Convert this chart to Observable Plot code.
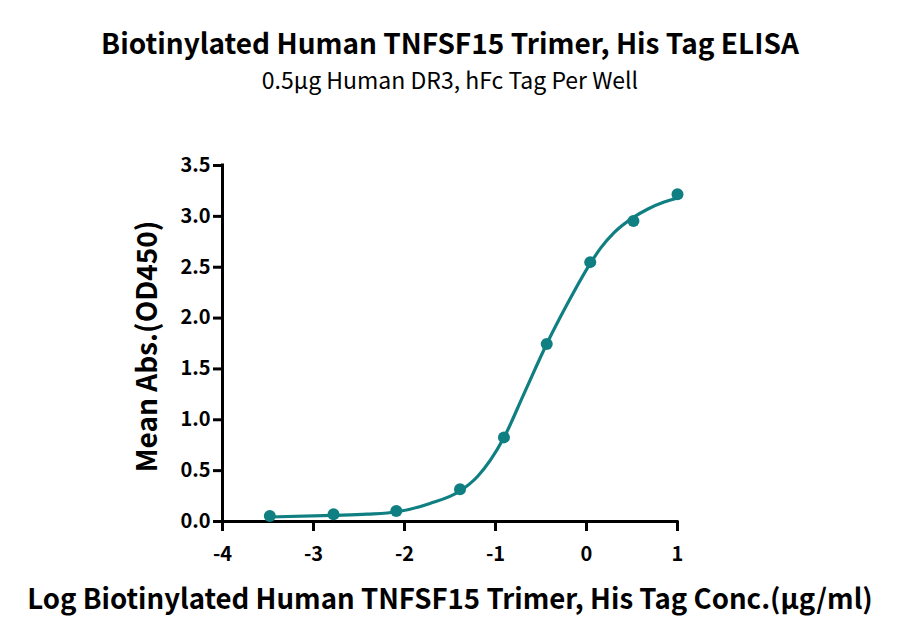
<!DOCTYPE html>
<html><head><meta charset="utf-8">
<script src="https://cdn.jsdelivr.net/npm/d3@7"></script>
<script src="https://cdn.jsdelivr.net/npm/@observablehq/plot@0.6"></script>
<style>
body{margin:0;background:#fff;font-family:"Noto Sans CJK SC","Noto Sans",sans-serif;color:#000;}
#wrap{width:900px;height:640px;position:relative;overflow:hidden;}
#title{position:absolute;top:28px;left:0;width:900px;text-align:center;font-weight:bold;font-size:28px;line-height:28px;white-space:nowrap;}
#subtitle{position:absolute;top:68px;left:0;width:900px;text-align:center;font-size:23px;line-height:23px;white-space:nowrap;}
#chart{position:absolute;top:100px;left:0;}
</style></head>
<body><div id="wrap">
<div id="title"></div><div id="subtitle"></div><div id="chart"></div>
</div>
<script>
const titleText = "Biotinylated Human TNFSF15 Trimer, His Tag ELISA";
const subtitleText = "0.5µg Human DR3, hFc Tag Per Well";
const xLabel = "Log Biotinylated Human TNFSF15 Trimer, His Tag Conc.(µg/ml)";
const yLabel = "Mean Abs.(OD450)";

const logConc = [-3.48, -2.78, -2.09, -1.39, -0.907, -0.437, 0.041, 0.516, 1.0];
const meanAbs = [0.054, 0.071, 0.103, 0.316, 0.827, 1.744, 2.55, 2.955, 3.217];

const fitLogConc = [-3.49, -2.79, -2.41, -2.08, -1.72, -1.39, -1.20, -0.91, -0.69, -0.44, -0.21, 0.037, 0.157, 0.303, 0.516, 0.67, 0.853, 1.0];
const fitAbs =     [0.044, 0.060, 0.072, 0.096, 0.178, 0.30, 0.44, 0.82, 1.25, 1.74, 2.14, 2.53, 2.69, 2.84, 2.99, 3.07, 3.14, 3.18];

const xTicks = [-4, -3, -2, -1, 0, 1];
const yTicks = [0, 0.5, 1, 1.5, 2, 2.5, 3, 3.5];

const teal = "#0f7f82";
const font = "'Noto Sans CJK SC', 'Noto Sans', sans-serif";

document.getElementById("title").textContent = titleText;
document.getElementById("subtitle").textContent = subtitleText;

const points = logConc.map((x, i) => ({x, y: meanAbs[i]}));
const fit = fitLogConc.map((x, i) => ({x, y: fitAbs[i]}));

const chart = Plot.plot({
  width: 900,
  height: 540,
  marginLeft: 222,
  marginRight: 223,
  marginTop: 65,
  marginBottom: 119,
  style: {fontFamily: font, background: "#fff", color: "#000"},
  x: {domain: [-4, 1]},
  y: {domain: [0, 3.5]},
  marks: [
    Plot.axisX({ticks: xTicks, tickSize: 10, tickPadding: 15, strokeWidth: 3, fontSize: 20, fontWeight: "bold",
      tickFormat: d => (d < 0 ? "-" + Math.abs(d) : String(d)), label: null}),
    Plot.axisY({ticks: yTicks, tickSize: 9, tickPadding: 3, strokeWidth: 3, fontSize: 20, fontWeight: "bold",
      tickFormat: d => d.toFixed(1), label: null}),
    Plot.ruleY([0], {stroke: "#000", strokeWidth: 3, strokeLinecap: "square"}),
    Plot.ruleX([-4], {stroke: "#000", strokeWidth: 3, strokeLinecap: "square"}),
    Plot.line(fit, {x: "x", y: "y", stroke: teal, strokeWidth: 3.2, curve: "monotone-x"}),
    Plot.dot(points, {x: "x", y: "y", fill: teal, r: 6}),
    Plot.text([xLabel], {frameAnchor: "bottom", dy: 79, fontSize: 27.6, fontWeight: "bold", textAnchor: "middle", lineAnchor: "middle", fill: "#000"}),
    Plot.text([yLabel], {frameAnchor: "left", dx: -74, dy: 3, rotate: -90, fontSize: 28, fontWeight: "bold", textAnchor: "middle", lineAnchor: "middle", fill: "#000"})
  ]
});
document.getElementById("chart").appendChild(chart);
</script>
</body></html>
